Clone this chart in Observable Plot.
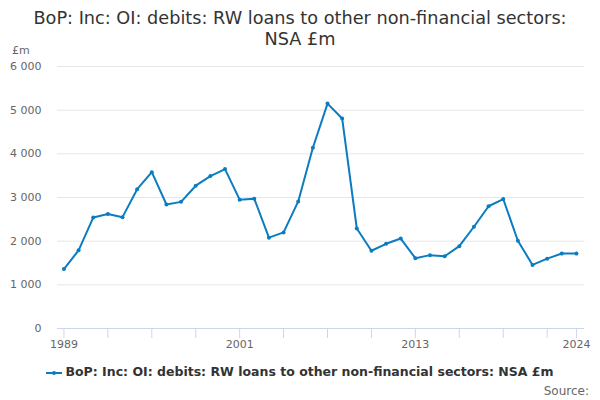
<!DOCTYPE html>
<html>
<head>
<meta charset="utf-8">
<script src="https://cdn.jsdelivr.net/npm/d3@7"></script>
<script src="https://cdn.jsdelivr.net/npm/@observablehq/plot@0.6"></script>
<style>
  body { margin: 0; width: 600px; height: 400px; font-family: "DejaVu Sans", sans-serif; background: #fff; position: relative; overflow: hidden; }
  #title { position: absolute; top: 8px; left: 0; width: 600px; text-align: center; font-size: 17.7px; line-height: 21px; color: #333; }
  #unit { position: absolute; left: 12px; top: 44px; font-size: 11px; color: #666; }
  #chart { position: absolute; top: 40px; left: 0; }
  #legend { position: absolute; top: 364px; left: 0; width: 600px; text-align: center; font-size: 12.5px; font-weight: bold; color: #333; }
  #legend svg { vertical-align: middle; margin-right: 3px; }
  #source { position: absolute; top: 384px; right: 11px; font-size: 12px; color: #666; }
</style>
</head>
<body>
<div id="title">BoP: Inc: OI: debits: RW loans to other non-financial sectors:<br>NSA £m</div>
<div id="unit">£m</div>
<div id="chart"></div>
<div id="legend"><svg width="16" height="10"><line x1="0" y1="5" x2="16" y2="5" stroke="#0b7cc0" stroke-width="2"/><circle cx="8" cy="5" r="2" fill="#0b7cc0"/></svg>BoP: Inc: OI: debits: RW loans to other non-financial sectors: NSA £m</div>
<div id="source">Source:</div>
<script>
const years = [1989,1990,1991,1992,1993,1994,1995,1996,1997,1998,1999,2000,2001,2002,2003,2004,2005,2006,2007,2008,2009,2010,2011,2012,2013,2014,2015,2016,2017,2018,2019,2020,2021,2022,2023,2024];
const values = [1360,1790,2540,2620,2550,3190,3580,2840,2900,3270,3490,3650,2950,2970,2080,2200,2910,4140,5150,4810,2290,1780,1940,2060,1610,1680,1655,1885,2330,2800,2965,2010,1456,1600,1716,1716];
const yTicks = [0,1000,2000,3000,4000,5000,6000];
const xTicks = [1989,1992,1995,1998,2001,2004,2007,2010,2013,2016,2019,2022,2024];
const xLabels = [1989,2001,2013,2024];

const data = years.map((y, i) => ({year: y, value: values[i]}));
const fmt = d3.formatLocale({decimal: ".", thousands: " ", grouping: [3], currency: ["", ""]}).format(",");
const color = "#0b7cc0";

const chart = Plot.plot({
  width: 600,
  height: 310,
  marginTop: 26,
  marginBottom: 22,
  marginLeft: 57,
  marginRight: 16,
  style: {fontFamily: "DejaVu Sans, sans-serif", fontSize: "11px", color: "#666", background: "transparent"},
  x: {type: "linear", domain: [1988.56, 2024.55]},
  y: {domain: [0, 6000]},
  marks: [
    Plot.ruleY(yTicks, {stroke: "#e6e6e6", strokeWidth: 1}),
    Plot.axisY({ticks: yTicks, tickSize: 0, tickPadding: 16, tickFormat: fmt, label: null, fill: "#666"}),
    Plot.axisX({ticks: xTicks, tickSize: 10, stroke: "#ccd6eb", tickPadding: 2, label: null, fill: "#666",
      tickFormat: d => xLabels.includes(d) ? String(d) : ""}),
    Plot.ruleY([0], {stroke: "#ccd6eb", strokeWidth: 1}),
    Plot.line(data, {x: "year", y: "value", stroke: color, strokeWidth: 2}),
    Plot.dot(data, {x: "year", y: "value", fill: color, r: 2})
  ]
});
document.getElementById("chart").appendChild(chart);
</script>
</body>
</html>
